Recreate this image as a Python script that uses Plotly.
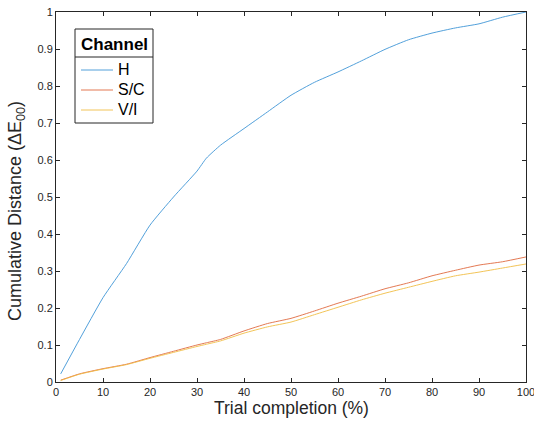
import plotly.graph_objects as go

trial_pct = [1, 5, 10, 15, 20, 25, 30, 32, 35, 40, 45, 50, 55, 60, 65, 70, 75, 80, 85, 90, 95, 100]
h_vals = [0.022, 0.115, 0.228, 0.32, 0.424, 0.50, 0.570, 0.605, 0.640, 0.685, 0.730, 0.775, 0.810, 0.838,
          0.868, 0.899, 0.925, 0.943, 0.957, 0.968, 0.986, 1.0]
sc_vals = [0.005, 0.022, 0.036, 0.048, 0.066, 0.083, 0.100, 0.106, 0.115, 0.138, 0.158, 0.172, 0.192, 0.213,
           0.232, 0.252, 0.268, 0.287, 0.302, 0.316, 0.325, 0.338]
vi_vals = [0.004, 0.021, 0.035, 0.047, 0.064, 0.080, 0.096, 0.102, 0.111, 0.132, 0.149, 0.162, 0.182, 0.202,
           0.222, 0.240, 0.256, 0.272, 0.287, 0.297, 0.308, 0.319]
series_names = ["H", "S/C", "V/I"]
series_colors = ["#3E95D6", "#E06A40", "#F0BD45"]

x_ticks = list(range(0, 101, 10))
y_ticks = [i / 10 for i in range(0, 11)]
y_tick_text = ["0"] + [f"{v:.1f}" for v in y_ticks[1:-1]] + ["1"]
x_title = "Trial completion (%)"
y_title = "Cumulative Distance (ΔE<sub>00</sub>)"
legend_title = "Channel"

FONT = "Liberation Sans, Arial, Helvetica"

# plot-area geometry in pixels (for the hand-drawn legend box)
L, T, W, H = 56, 12, 470, 370


def px(xp):
    return (xp - L) / W


def py(yp):
    return (T + H - yp) / H


fig = go.Figure()
for name, vals, col in zip(series_names, [h_vals, sc_vals, vi_vals], series_colors):
    fig.add_trace(go.Scatter(x=trial_pct, y=vals, mode="lines", name=name, showlegend=False,
                             line=dict(color=col, width=0.9, shape="spline", smoothing=0.5)))

axis_common = dict(showgrid=False, zeroline=False, showline=True, linecolor="#262626", linewidth=1,
                   mirror="ticks", ticks="inside", ticklen=4, tickcolor="#262626", automargin=False,
                   ticklabeloverflow="allow",
                   tickfont=dict(family=FONT, size=11, color="#262626"))

fig.update_xaxes(range=[0, 100], tickvals=x_ticks, ticktext=[str(v) for v in x_ticks], **axis_common)
fig.update_yaxes(range=[0, 1], tickvals=y_ticks, ticktext=y_tick_text, **axis_common)

fig.add_annotation(text=x_title, xref="paper", yref="paper", x=0.5, y=-0.07,
                   xanchor="center", yanchor="middle", showarrow=False,
                   font=dict(family=FONT, size=17.5, color="#262626"))
fig.add_annotation(text=y_title, xref="paper", yref="paper", x=-0.085, y=0.462,
                   xanchor="center", yanchor="middle", showarrow=False, textangle=-90,
                   font=dict(family=FONT, size=18, color="#262626"))

# legend frame, title, separator and entries
fig.add_shape(type="rect", xref="paper", yref="paper", x0=px(75), x1=px(153), y0=py(123), y1=py(29),
              line=dict(color="#262626", width=1), fillcolor="white", layer="below")
fig.add_shape(type="line", xref="paper", yref="paper", x0=px(75), x1=px(153), y0=py(57), y1=py(57),
              line=dict(color="#262626", width=1), layer="below")
fig.add_annotation(text="<b>" + legend_title + "</b>", xref="paper", yref="paper", x=px(114), y=py(44),
                   xanchor="center", yanchor="middle", showarrow=False,
                   font=dict(family=FONT, size=17, color="black"))
for i, (name, col) in enumerate(zip(series_names, series_colors)):
    yy = 70 + 20 * i
    fig.add_shape(type="line", xref="paper", yref="paper", x0=px(81), x1=px(113), y0=py(yy), y1=py(yy),
                  line=dict(color=col, width=0.9))
    fig.add_annotation(text=name, xref="paper", yref="paper", x=px(116), y=py(yy - 0.5),
                       xanchor="left", yanchor="middle", showarrow=False,
                       font=dict(family=FONT, size=16, color="black"))

fig.update_layout(
    width=534, height=424,
    margin=dict(l=L, r=534 - L - W, t=T, b=424 - T - H),
    paper_bgcolor="white", plot_bgcolor="white",
    showlegend=False,
)

fig.write_html("out.html", config={"displayModeBar": False},
               post_script="document.body.style.margin='0';")
